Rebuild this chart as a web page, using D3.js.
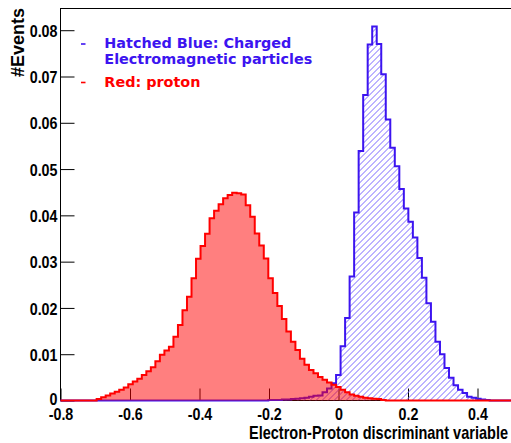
<!DOCTYPE html>
<html><head><meta charset="utf-8">
<script src="https://cdn.jsdelivr.net/npm/d3@7"></script>
<style>html,body{margin:0;padding:0;background:#fff;overflow:hidden}</style>
</head><body>
<svg id="c" width="511" height="443" xmlns="http://www.w3.org/2000/svg"></svg>
<script>
// ---------- data ----------
const xRange = [-0.8, 0.5];
const nBins = 100;
const redValues = [
  0,0,0,0,0,0,0,0,
  0.0003,0.0007,0.0011,0.0015,0.0019,0.0023,0.0028,0.0035,
  0.0041,0.0047,0.0055,0.0063,0.0072,0.0085,0.0099,0.0108,
  0.0116,0.0138,0.0163,0.0195,0.0224,0.0264,0.0306,0.0334,
  0.0360,0.0394,0.0410,0.0424,0.0437,0.0444,0.0449,0.0448,
  0.0445,0.0422,0.0397,0.0361,0.0335,0.0307,0.0264,0.0232,
  0.0204,0.0176,0.0149,0.0127,0.0109,0.0090,0.0077,0.0066,
  0.0059,0.0051,0.0045,0.0039,0.0034,0.0029,0.0023,0.0018,
  0.0013,0.0010,0.0008,0.0006,0.0005,0.0004,0.0003,0.0001,
  0,0,0,0,0,0,0,0,0,0,0,0,0,0,0,0,0,0,0,0,0,0,0,0,0,0,0,0
];
const blueValues = [
  0,0,0,0,0,0,0,0,0,0,0,0,0,0,0,0,0,0,0,0,0,0,0,0,0,0,0,0,0,0,
  0,0,0,0,0,0,0,0,0,0,0,0,0,0,0,
  0,0.0001,0.0001,0.0001,0.0002,0.0002,0.0003,
  0.0004,0.0005,0.0006,0.0008,0.0010,0.0011,0.0018,0.0026,
  0.0037,0.0055,0.0117,0.0178,0.0268,0.0406,0.0539,0.0660,
  0.0769,0.0808,0.0770,0.0705,0.0607,0.0546,0.0506,0.0457,
  0.0415,0.0386,0.0352,0.0308,0.0265,0.0210,0.0170,0.0127,
  0.0100,0.0070,0.0049,0.0033,0.0023,0.0016,0.0008,0.0006,
  0.0004,0.0002,0.0001,0,0,0,0,0
];
const xTickValues = [-0.8,-0.6,-0.4,-0.2,0,0.2,0.4];
const xTickLabels = ["-0.8","-0.6","-0.4","-0.2","0","0.2","0.4"];
const yTickValues = [0,0.01,0.02,0.03,0.04,0.05,0.06,0.07,0.08];
const yTickLabels = ["0","0.01","0.02","0.03","0.04","0.05","0.06","0.07","0.08"];
const yMax = 0.0848;
const legendLines = ["Hatched Blue: Charged","Electromagnetic particles","Red: proton"];
const xTitle = "Electron-Proton discriminant variable";
const yTitle = "#Events";

// ---------- layout ----------
const mLeft = 60.5, mRight = 512.25, mTop = 8, mBottom = 400.5;
const blue = "#3c14f0", red = "#ff0000";
const numFont = "'Liberation Sans',Arial,Helvetica,sans-serif";

const svg = d3.select("#c");
const x = d3.scaleLinear().domain(xRange).range([mLeft, mRight]);
const y = d3.scaleLinear().domain([0, yMax]).range([mBottom, mTop]);
const binW = (xRange[1]-xRange[0]) / nBins;

function narrow(sel, ratio){
  sel.each(function(){
    const w = this.getComputedTextLength();
    if (w > 0) d3.select(this).attr("textLength", w*ratio).attr("lengthAdjust","spacingAndGlyphs");
  });
}

// ---------- frame & axes ----------
const gx = svg.append("g").attr("transform",`translate(0,${mBottom})`);
gx.call(d3.axisBottom(x).tickValues(d3.range(-0.8,0.5001,0.05)).tickSize(-6).tickFormat(""));
gx.call(d3.axisBottom(x).tickValues(xTickValues).tickSize(-12).tickFormat((d,i)=>xTickLabels[i]));
gx.selectAll(".domain").remove();
gx.selectAll("line").attr("stroke","#000");
gx.selectAll("text").attr("y",19.5).attr("dy",0).attr("font-family",numFont)
  .attr("font-weight","bold").attr("font-size",17).attr("fill","#000");
narrow(gx.selectAll("text"), 0.84);

const gy = svg.append("g").attr("transform",`translate(${mLeft},0)`);
gy.call(d3.axisLeft(y).tickValues(d3.range(0,0.0847,0.002)).tickSize(-7).tickFormat(""));
gy.call(d3.axisLeft(y).tickValues(yTickValues).tickSize(-14).tickPadding(3).tickFormat((d,i)=>yTickLabels[i]));
gy.selectAll(".domain").remove();
gy.selectAll("line").attr("stroke","#000");
gy.selectAll("text").attr("font-family",numFont).attr("font-weight","bold")
  .attr("font-size",17).attr("fill","#000").attr("dy",d=>d===0?"0.24em":"0.36em");
narrow(gy.selectAll("text"), 0.84);

svg.append("path").attr("d",`M${mLeft},${mTop+0.5}H${mRight} M${mLeft},${mTop}V${mBottom} M${mLeft},${mBottom}H${mRight}`)
  .attr("stroke","#000").attr("stroke-width",1).attr("fill","none");

// ---------- histograms ----------
function stepPoints(vals){
  const pts = [[x(xRange[0]), y(0)]];
  vals.forEach((v,i)=>{
    const a = xRange[0] + i*binW, b = a + binW;
    pts.push([x(a), y(v)], [x(b), y(v)]);
  });
  pts.push([x(xRange[1]), y(0)]);
  return pts;
}
const line = d3.line();
const bluePts = stepPoints(blueValues), redPts = stepPoints(redValues);

// blue hatch: diagonal lines clipped to the blue histogram area
svg.append("clipPath").attr("id","blueClip").append("path").attr("d", line(bluePts)+"Z");
const H = mBottom - mTop;
const hatchG = svg.append("g").attr("clip-path","url(#blueClip)");
hatchG.selectAll("line").data(d3.range(mLeft - H, mRight, 6)).join("line")
  .attr("x1", d=>d).attr("y1", mBottom).attr("x2", d=>d+H).attr("y2", mTop)
  .attr("stroke","#7a66ff").attr("stroke-width",1);
svg.append("path").attr("d", line(bluePts)).attr("fill","none").attr("stroke",blue).attr("stroke-width",2).attr("stroke-linejoin","miter");

// red fill (semi-transparent, like the dithered ROOT fill) and outline
svg.append("path").attr("d", line(redPts)+"Z").attr("fill",red).attr("fill-opacity",0.5).attr("stroke","none");
svg.append("path").attr("d", line(redPts)).attr("fill","none").attr("stroke",red).attr("stroke-width",2).attr("stroke-linejoin","miter");

// ---------- titles ----------
svg.append("g").attr("transform","translate(508,439) scale(0.83,1)")
  .append("text").attr("x",0).attr("y",0).attr("text-anchor","end")
  .attr("font-family",numFont).attr("font-weight","bold").attr("font-size",17.5).attr("fill","#000").text(xTitle);
svg.append("text").attr("transform","translate(24,8) rotate(-90)").attr("text-anchor","end")
  .attr("font-family",numFont).attr("font-weight","bold").attr("font-size",18).attr("fill","#000").text(yTitle);

// ---------- legend ----------
const legFont = "'DejaVu Sans',Verdana,sans-serif";
const legend = svg.append("g");
legend.append("line").attr("x1",81).attr("x2",85.5).attr("y1",44).attr("y2",44).attr("stroke",blue).attr("stroke-width",1.6);
legend.append("line").attr("x1",81).attr("x2",85.5).attr("y1",82.5).attr("y2",82.5).attr("stroke",red).attr("stroke-width",1.6);
const legY = [48.3, 64.3, 86.7], legC = [blue, blue, red];
legendLines.forEach((t,i)=>{
  legend.append("text").attr("x",104.3).attr("y",legY[i]).attr("font-family",legFont)
    .attr("font-weight","bold").attr("font-size",14.4).attr("fill",legC[i]).text(t);
});
</script>
</body></html>
